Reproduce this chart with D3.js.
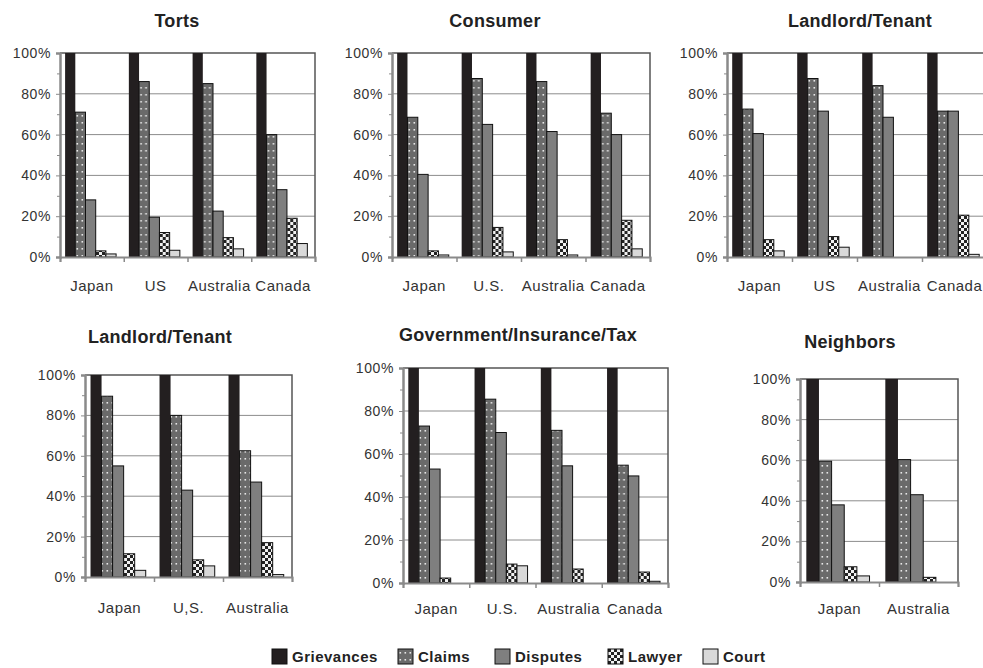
<!DOCTYPE html>
<html>
<head>
<meta charset="utf-8">
<script src="https://cdn.jsdelivr.net/npm/d3@7"></script>
<style>
  body { margin: 0; background: #fff; }
  svg { display: block; font-family: "Liberation Sans", Arial, sans-serif; }
</style>
</head>
<body>
<svg id="chart" width="983" height="668"></svg>
<script>
// series shown in every panel
var series = ['Grievances', 'Claims', 'Disputes', 'Lawyer', 'Court'];
var yTicks = [0, 20, 40, 60, 80, 100];

// panel titles and country groups
var titles = ['Torts', 'Consumer', 'Landlord/Tenant', 'Landlord/Tenant', 'Government/Insurance/Tax', 'Neighbors'];
var countries = [
    ['Japan', 'US', 'Australia', 'Canada'],
    ['Japan', 'U.S.', 'Australia', 'Canada'],
    ['Japan', 'US', 'Australia', 'Canada'],
    ['Japan', 'U,S.', 'Australia'],
    ['Japan', 'U.S.', 'Australia', 'Canada'],
    ['Japan', 'Australia']
];

// percentages, one row per country: grievances, claims, disputes, lawyer, court
var torts = [[100, 71, 28, 3, 1.5], [100, 86, 19.5, 12, 3.3], [100, 85, 22.5, 9.5, 4], [100, 60, 33, 19, 6.6]];
var consumer = [[100, 68.5, 40.5, 3, 1], [100, 87.5, 65, 14.5, 2.5], [100, 86, 61.5, 8.5, 1], [100, 70.5, 60, 18, 4]];
var landlordA = [[100, 72.5, 60.5, 8.5, 3], [100, 87.5, 71.5, 10, 4.8], [100, 84, 68.5, 0, 0], [100, 71.5, 71.5, 20.5, 1.3]];
var landlordB = [[100, 89.5, 55, 11.5, 3.3], [100, 80, 43, 8.5, 5.5], [100, 62.5, 47, 17, 1.2]];
var government = [[100, 73, 53, 2.3, 0], [100, 85.5, 70, 8.8, 8], [100, 71, 54.5, 6.5, 0], [100, 54.8, 49.8, 5.1, 0.8]];
var neighbors = [[100, 59.5, 38, 7.5, 3], [100, 60.3, 43, 2.3, 0]];

var values = [torts, consumer, landlordA, landlordB, government, neighbors];

// where each panel sits on the page
var frames = [
    {left: 60, right: 315, top: 53, bottom: 257, titleX: 177, titleY: 27, labelY: 291},
    {left: 392, right: 650, top: 53, bottom: 257, titleX: 495, titleY: 27, labelY: 291},
    {left: 727, right: 987, top: 53, bottom: 257, titleX: 860, titleY: 27, labelY: 291},
    {left: 85, right: 292, top: 375, bottom: 577, titleX: 160, titleY: 343, labelY: 613},
    {left: 403, right: 668, top: 368, bottom: 583, titleX: 518, titleY: 341, labelY: 614},
    {left: 800, right: 958, top: 379, bottom: 582, titleX: 850, titleY: 348, labelY: 614}
];

var svg = d3.select('#chart');

// fills for the five series
var defs = svg.append('defs');
var dots = defs.append('pattern')
    .attr('id', 'claimsFill')
    .attr('patternUnits', 'userSpaceOnUse')
    .attr('width', 5).attr('height', 7);
dots.append('rect').attr('width', 5).attr('height', 7).attr('fill', '#6a6a6a');
dots.append('rect').attr('x', 1.5).attr('y', 3).attr('width', 1.6).attr('height', 1.6).attr('fill', '#e8e8e8');

var checks = defs.append('pattern')
    .attr('id', 'lawyerFill')
    .attr('patternUnits', 'userSpaceOnUse')
    .attr('width', 6).attr('height', 6);
checks.append('rect').attr('width', 6).attr('height', 6).attr('fill', '#f2f2f2');
checks.append('rect').attr('width', 3).attr('height', 3).attr('fill', '#222');
checks.append('rect').attr('x', 3).attr('y', 3).attr('width', 3).attr('height', 3).attr('fill', '#222');

var fills = {
    Grievances: '#231f20',
    Claims: 'url(#claimsFill)',
    Disputes: '#7f7f7f',
    Lawyer: 'url(#lawyerFill)',
    Court: '#d9d9d9'
};

function drawPanel(i) {
    var f = frames[i],
        cats = countries[i],
        rows = values[i];

    var g = svg.append('g');

    var y = d3.scaleLinear().domain([0, 100]).range([f.bottom, f.top]);
    var x0 = d3.scaleBand().domain(cats).range([f.left, f.right]);
    var bw = x0.bandwidth();
    var x1 = d3.scaleBand().domain(series).range([bw * 0.08, bw * 0.88]);

    // gridlines
    g.selectAll('line.grid')
        .data(yTicks.filter(function (d) { return d > 0 && d < 100; }))
        .enter().append('line')
        .attr('x1', f.left).attr('x2', f.right)
        .attr('y1', function (d) { return y(d); })
        .attr('y2', function (d) { return y(d); })
        .attr('stroke', '#8c8c8c')
        .attr('stroke-width', 1);

    // top and right border
    g.append('path')
        .attr('d', 'M' + f.left + ',' + y(100) + 'H' + f.right + 'V' + f.bottom)
        .attr('fill', 'none')
        .attr('stroke', '#555')
        .attr('stroke-width', 1.5);

    // bars
    var groups = g.selectAll('g.country')
        .data(rows)
        .enter().append('g')
        .attr('transform', function (d, j) { return 'translate(' + x0(cats[j]) + ',0)'; });

    groups.selectAll('rect')
        .data(function (d) { return d.map(function (v, k) { return {key: series[k], value: v}; }); })
        .enter().append('rect')
        .filter(function (d) { return d.value > 0; })
        .attr('x', function (d) { return x1(d.key); })
        .attr('width', x1.bandwidth())
        .attr('y', function (d) { return y(d.value); })
        .attr('height', function (d) { return f.bottom - y(d.value); })
        .attr('fill', function (d) { return fills[d.key]; })
        .attr('stroke', function (d) { return d.key === 'Grievances' ? 'none' : '#111'; })
        .attr('stroke-width', 1);

    // y axis
    var yAxis = d3.axisLeft(y)
        .tickValues(yTicks)
        .tickSize(4)
        .tickFormat(function (d) { return d + '%'; });
    var ya = g.append('g')
        .attr('transform', 'translate(' + f.left + ',0)')
        .call(yAxis);
    ya.select('.domain').attr('stroke', '#8a8a8a').attr('stroke-width', 2.5);
    ya.selectAll('.tick line').attr('stroke', '#8a8a8a');
    ya.selectAll('.tick text')
        .attr('x', -9)
        .attr('fill', '#333')
        .style('font-size', '14px')
        .style('letter-spacing', '0.6px');

    // minor ticks
    var minor = d3.axisLeft(y)
        .tickValues([10, 30, 50, 70, 90])
        .tickSize(3)
        .tickFormat('');
    var ym = g.append('g')
        .attr('transform', 'translate(' + f.left + ',0)')
        .call(minor);
    ym.select('.domain').remove();
    ym.selectAll('.tick line').attr('stroke', '#8a8a8a');

    // x axis with ticks between countries
    var xs = d3.scaleLinear().domain([0, cats.length]).range([f.left, f.right]);
    var xa = g.append('g')
        .attr('transform', 'translate(0,' + f.bottom + ')')
        .call(d3.axisBottom(xs).ticks(cats.length).tickSize(5).tickFormat(''));
    xa.select('.domain').attr('stroke', '#8a8a8a').attr('stroke-width', 2);
    xa.selectAll('.tick line').attr('stroke', '#8a8a8a').attr('stroke-width', 1.5);

    // country labels
    g.selectAll('text.country')
        .data(cats)
        .enter().append('text')
        .attr('x', function (d) { return x0(d) + bw / 2; })
        .attr('y', f.labelY)
        .attr('text-anchor', 'middle')
        .attr('fill', '#333')
        .style('font-size', '15px')
        .style('letter-spacing', '0.5px')
        .text(function (d) { return d; });

    // title
    g.append('text')
        .attr('x', f.titleX)
        .attr('y', f.titleY)
        .attr('text-anchor', 'middle')
        .attr('fill', '#222')
        .style('font-size', '18px')
        .style('font-weight', 'bold')
        .style('letter-spacing', '0.3px')
        .text(titles[i]);
}

for (var i = 0; i < frames.length; i++) {
    drawPanel(i);
}

// legend
var legendX = [272, 398, 495, 608, 703];
var legend = svg.append('g');
var items = legend.selectAll('g')
    .data(series)
    .enter().append('g')
    .attr('transform', function (d, i) { return 'translate(' + legendX[i] + ',649)'; });
items.append('rect')
    .attr('width', 15).attr('height', 15)
    .attr('fill', function (d) { return fills[d]; })
    .attr('stroke', '#111');
items.append('text')
    .attr('x', 20).attr('y', 13)
    .attr('fill', '#222')
    .style('font-size', '15px')
    .style('font-weight', 'bold')
    .style('letter-spacing', '0.5px')
    .text(function (d) { return d; });
</script>
</body>
</html>
